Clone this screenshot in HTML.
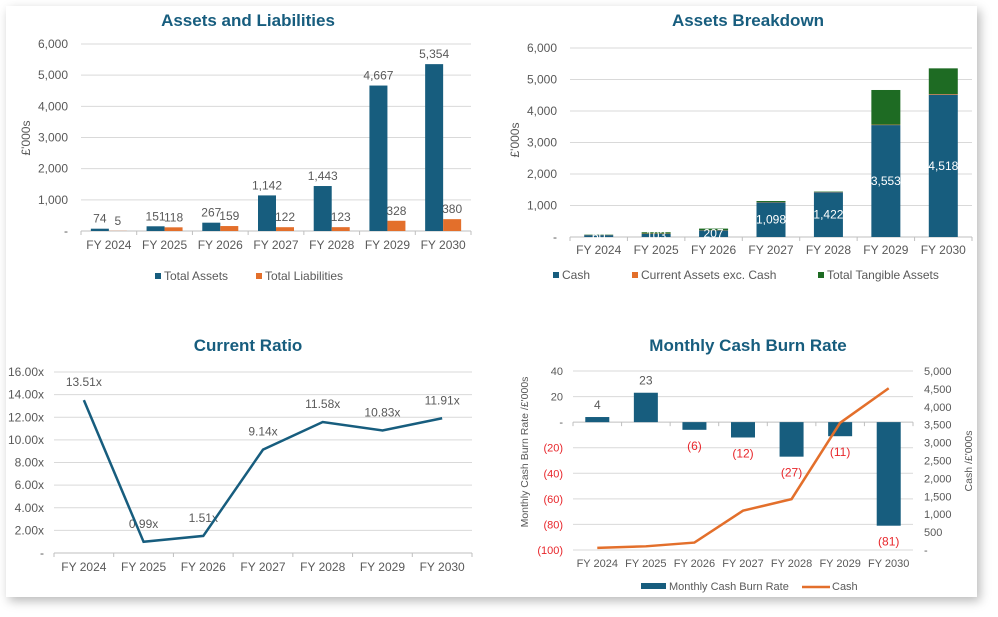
<!DOCTYPE html>
<html><head><meta charset="utf-8">
<style>
html,body{margin:0;padding:0;background:#fff;width:998px;height:617px;overflow:hidden;font-family:"Liberation Sans",Arial,sans-serif}
#card{position:absolute;left:6px;top:6px;width:971px;height:591px;background:#fff;box-shadow:3px 4px 10px rgba(0,0,0,0.28)}
svg{position:absolute;left:0;top:0}
</style></head>
<body>
<div id="card"></div>
<svg id="s" width="998" height="617"></svg>
<script>
const years=["FY 2024","FY 2025","FY 2026","FY 2027","FY 2028","FY 2029","FY 2030"];
const totalAssets=[74,151,267,1142,1443,4667,5354];
const totalLiabilities=[5,118,159,122,123,328,380];
const cash=[60,103,207,1098,1422,3553,4518];
const currentExCash=[4,8,10,10,8,14,20];
const tangible=[10,40,50,34,13,1100,816];
const ratio=[13.51,0.99,1.51,9.14,11.58,10.83,11.91];
const burn=[4,23,-6,-12,-27,-11,-81];
const tickThousands=[0,1000,2000,3000,4000,5000,6000];
const tickRatio=[0,2,4,6,8,10,12,14,16];
const tickBurn=[40,20,0,-20,-40,-60,-80,-100];
const tickCashR=[0,500,1000,1500,2000,2500,3000,3500,4000,4500,5000];

const S=document.getElementById('s');const NS="http://www.w3.org/2000/svg";
const BLUE="#175d7e",ORANGE="#e36f2b",GREEN="#1e6b23",GRID="#d9d9d9",TXT="#595959";
function el(tag,attrs,name,parent){const e=document.createElementNS(NS,tag);for(const k in attrs)e.setAttribute(k,attrs[k]);


(parent||S).appendChild(e);return e;}
function tx(x,y,s,name,opt){opt=opt||{};const t=el('text',{x:x,y:y,'font-size':opt.fs||12,fill:opt.fill||TXT,'text-anchor':opt.a||'middle','font-weight':opt.fw||'normal','font-family':'Liberation Sans, Arial, sans-serif'},name);
if(opt.rot)t.setAttribute('transform','rotate(-90 '+x+' '+y+')');t.textContent=s;return t;}
function fmt(v){return v===0?'-':v.toLocaleString('en-US');}
function fmtNeg(v){return v<0?'('+Math.abs(v)+')':(v===0?'-':String(v));}
function axisBase(x0,x1,yb,name){el('line',{x1:x0,x2:x1,y1:yb,y2:yb,stroke:'#bfbfbf'},name);
const w=(x1-x0)/7;for(let i=0;i<=7;i++)el('line',{x1:x0+i*w,x2:x0+i*w,y1:yb,y2:yb+4,stroke:'#bfbfbf'},name+'-tick');}

// Chart 1
(function(){const x0=81,x1=471,y0=231,yt=44,ymax=6000;const y=v=>y0-(y0-yt)*v/ymax;const w=(x1-x0)/7;
tx(248,26,"Assets and Liabilities","chart1-title",{fs:17,fw:'bold',fill:BLUE});
tickThousands.forEach(t=>{if(t>0)el('line',{x1:x0,x2:x1,y1:y(t),y2:y(t),stroke:GRID},'chart1-gridline');tx(68,y(t)+4,fmt(t),'chart1-y-tick',{a:'end'});});
tx(30,138,"£'000s","chart1-y-axis-title",{rot:1});
axisBase(x0,x1,y0,'chart1-x-axis');
years.forEach((yr,i)=>{const c=x0+w*i+w/2;
el('rect',{x:c-18,y:y(totalAssets[i]),width:18,height:y0-y(totalAssets[i]),fill:BLUE},'bar-total-assets');
el('rect',{x:c,y:y(totalLiabilities[i]),width:18,height:y0-y(totalLiabilities[i]),fill:ORANGE},'bar-total-liabilities');
tx(c-9,y(totalAssets[i])-6,fmt(totalAssets[i]),'label-total-assets');
tx(c+9,y(totalLiabilities[i])-6,fmt(totalLiabilities[i]),'label-total-liabilities');
tx(c,249,yr,'chart1-x-tick');});
el('rect',{x:155,y:273,width:6,height:6,fill:BLUE},'legend-total-assets-swatch');tx(164,280,"Total Assets",'legend-total-assets',{a:'start'});
el('rect',{x:256,y:273,width:6,height:6,fill:ORANGE},'legend-total-liabilities-swatch');tx(265,280,"Total Liabilities",'legend-total-liabilities',{a:'start'});})();

// Chart 2
(function(){const x0=570,x1=972,y0=237,yt=48,ymax=6000;const y=v=>y0-(y0-yt)*v/ymax;const w=(x1-x0)/7;
tx(748,26,"Assets Breakdown","chart2-title",{fs:17,fw:'bold',fill:BLUE});
tickThousands.forEach(t=>{if(t>0)el('line',{x1:x0,x2:x1,y1:y(t),y2:y(t),stroke:GRID},'chart2-gridline');tx(557,y(t)+4,fmt(t),'chart2-y-tick',{a:'end'});});
tx(519,140,"£'000s","chart2-y-axis-title",{rot:1});
axisBase(x0,x1,y0,'chart2-x-axis');
years.forEach((yr,i)=>{const c=x0+w*i+w/2;const bw=29;
const a=cash[i],b=a+currentExCash[i],t=b+tangible[i];
el('rect',{x:c-bw/2,y:y(a),width:bw,height:y0-y(a),fill:BLUE},'bar-cash');
el('rect',{x:c-bw/2,y:y(b),width:bw,height:y(a)-y(b),fill:ORANGE},'bar-current-assets');
el('rect',{x:c-bw/2,y:y(t),width:bw,height:y(b)-y(t),fill:GREEN},'bar-tangible-assets');
tx(c,y(a/2)+4,fmt(a),'label-cash',{fill:'#fff'});
tx(c,254,yr,'chart2-x-tick');});
el('rect',{x:553,y:272,width:6,height:6,fill:BLUE},'legend-cash-swatch');tx(562,279,"Cash",'legend-cash',{a:'start'});
el('rect',{x:632,y:272,width:6,height:6,fill:ORANGE},'legend-current-assets-swatch');tx(641,279,"Current Assets exc. Cash",'legend-current-assets',{a:'start'});
el('rect',{x:818,y:272,width:6,height:6,fill:GREEN},'legend-tangible-swatch');tx(827,279,"Total Tangible Assets",'legend-tangible',{a:'start'});})();

// Chart 3
(function(){const x0=54,x1=472,y0=553,yt=372,ymax=16;const y=v=>y0-(y0-yt)*v/ymax;const w=(x1-x0)/7;
tx(248,351,"Current Ratio","chart3-title",{fs:17,fw:'bold',fill:BLUE});
tickRatio.forEach(t=>{if(t>0)el('line',{x1:x0,x2:x1,y1:y(t),y2:y(t),stroke:GRID},'chart3-gridline');tx(44,y(t)+4,t===0?'-':t.toFixed(2)+'x','chart3-y-tick',{a:'end'});});
axisBase(x0,x1,y0,'chart3-x-axis');
let d='';ratio.forEach((v,i)=>{const c=x0+w*i+w/2;d+=(i?'L':'M')+c+' '+y(v);
tx(c,y(v)-14,v.toFixed(2)+'x','label-current-ratio');tx(c,571,years[i],'chart3-x-tick');});
el('path',{d:d,fill:'none',stroke:BLUE,'stroke-width':2.5},'line-current-ratio');})();

// Chart 4
(function(){const x0=573,x1=913,yt=371,yb=550;const yl=v=>yt+(40-v)/140*(yb-yt);const yr=v=>yb-(yb-yt)*v/5000;const w=(x1-x0)/7;
tx(748,351,"Monthly Cash Burn Rate","chart4-title",{fs:17,fw:'bold',fill:BLUE});
tickBurn.forEach(t=>{if(t!==0)el('line',{x1:x0,x2:x1,y1:yl(t),y2:yl(t),stroke:GRID},'chart4-gridline');tx(563,yl(t)+4,fmtNeg(t),'chart4-y-tick',{a:'end',fill:t<0?'#e8262b':TXT,fs:11});});
tickCashR.forEach(t=>tx(924,yr(t)+4,fmt(t),'chart4-y2-tick',{a:'start',fs:11}));
tx(528,452,"Monthly Cash Burn Rate /£'000s","chart4-y-axis-title",{rot:1,fs:10.5});
tx(972,461,"Cash /£'000s","chart4-y2-axis-title",{rot:1,fs:10.5});
axisBase(x0,x1,yl(0),'chart4-x-axis');
let d='';years.forEach((yrn,i)=>{const c=x0+w*i+w/2;const v=burn[i];
el('rect',{x:c-12,y:Math.min(yl(v),yl(0)),width:24,height:Math.abs(yl(v)-yl(0)),fill:BLUE},'bar-burn-rate');
if(v>=0)tx(c,yl(v)-8,fmtNeg(v),'label-burn-rate');else tx(c,yl(v)+20,fmtNeg(v),'label-burn-rate',{fill:'#e8262b'});
d+=(i?'L':'M')+c+' '+yr(cash[i]);
tx(c,567,yrn,'chart4-x-tick',{fs:11});});
el('path',{d:d,fill:'none',stroke:ORANGE,'stroke-width':2.5},'line-cash');
el('rect',{x:641,y:583,width:25,height:6,fill:BLUE},'legend-burn-swatch');tx(669,590,"Monthly Cash Burn Rate",'legend-burn-rate',{a:'start',fs:11});
el('line',{x1:802,x2:830,y1:587,y2:587,stroke:ORANGE,'stroke-width':2.5},'legend-cash-swatch');tx(832,590,"Cash",'legend-cash-line',{a:'start',fs:11});})();
</script>
</body></html>
